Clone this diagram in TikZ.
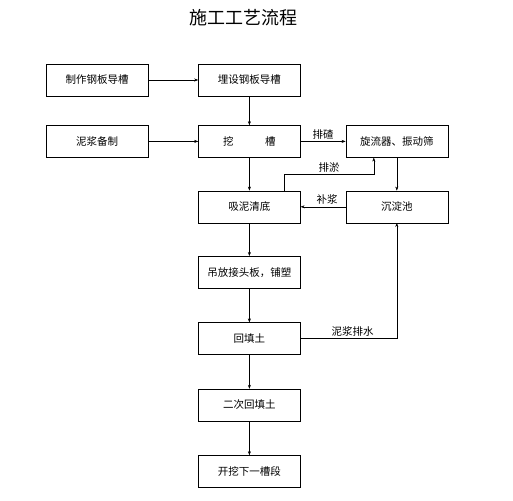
\documentclass[tikz,border=0pt]{standalone}
\usepackage{fontspec}
\newfontfamily\cjk{Noto Sans CJK SC}
\usetikzlibrary{arrows.meta,positioning}

\begin{document}
\begin{tikzpicture}[x=1pt,y=1pt,node distance=33pt and 45pt,font=\cjk\fontsize{10.5}{12}\selectfont,box/.style={draw,align=center,minimum width=102pt,minimum height=32pt,inner sep=2pt},arr/.style={-{Stealth[length=4pt,width=3pt]}},lbl/.style={above,inner sep=2pt}]
\useasboundingbox (0,0) rectangle (513,-500);
\node[font=\cjk\fontsize{18}{20}\selectfont] (title) at (243,-18) {施工工艺流程};
\node[box] (zhizuo) at (97,-80) {制作钢板导槽};
\node[box,right=50pt of zhizuo] (maishe) {埋设钢板导槽};
\node[box,below=29pt of maishe] (wacao) {挖\hspace{3em}槽};
\node[box,left=50pt of wacao] (nijiang) {泥浆备制};
\node[box,right=of wacao] (xuanliu) {旋流器、振动筛};
\node[box,below=of wacao] (xini) {吸泥清底};
\node[box,below=of xuanliu] (chendian) {沉淀池};
\node[box,below=of xini] (diaofang) {吊放接头板，铺塑};
\node[box,below=34pt of diaofang] (huitian) {回填土};
\node[box,below=34pt of huitian] (erci) {二次回填土};
\node[box,below=34pt of erci] (kaiwa) {开挖下一槽段};
\coordinate (painiA) at ([xshift=35pt]xini.north);
\coordinate (painiB) at ([xshift=-23pt]xuanliu.south);
\draw[arr](zhizuo)--(maishe);\draw[arr](maishe)--(wacao);\draw[arr](nijiang)--(wacao);
\draw[arr](wacao)--node[lbl]{排碴}(xuanliu);
\draw[arr](wacao)--(xini);
\draw[arr](painiA)--++(0,16)-|node[lbl,pos=0.25]{排淤}(painiB);
\draw[arr](xuanliu)--(chendian);
\draw[arr](chendian)--node[lbl,xshift=4pt]{补浆}(xini);
\draw[arr](xini)--(diaofang);\draw[arr](diaofang)--(huitian);
\draw[arr](huitian.east)-|node[lbl,pos=0.27]{泥浆排水}(chendian.south);
\draw[arr](huitian)--(erci);\draw[arr](erci)--(kaiwa);
\end{tikzpicture}
\end{document}
